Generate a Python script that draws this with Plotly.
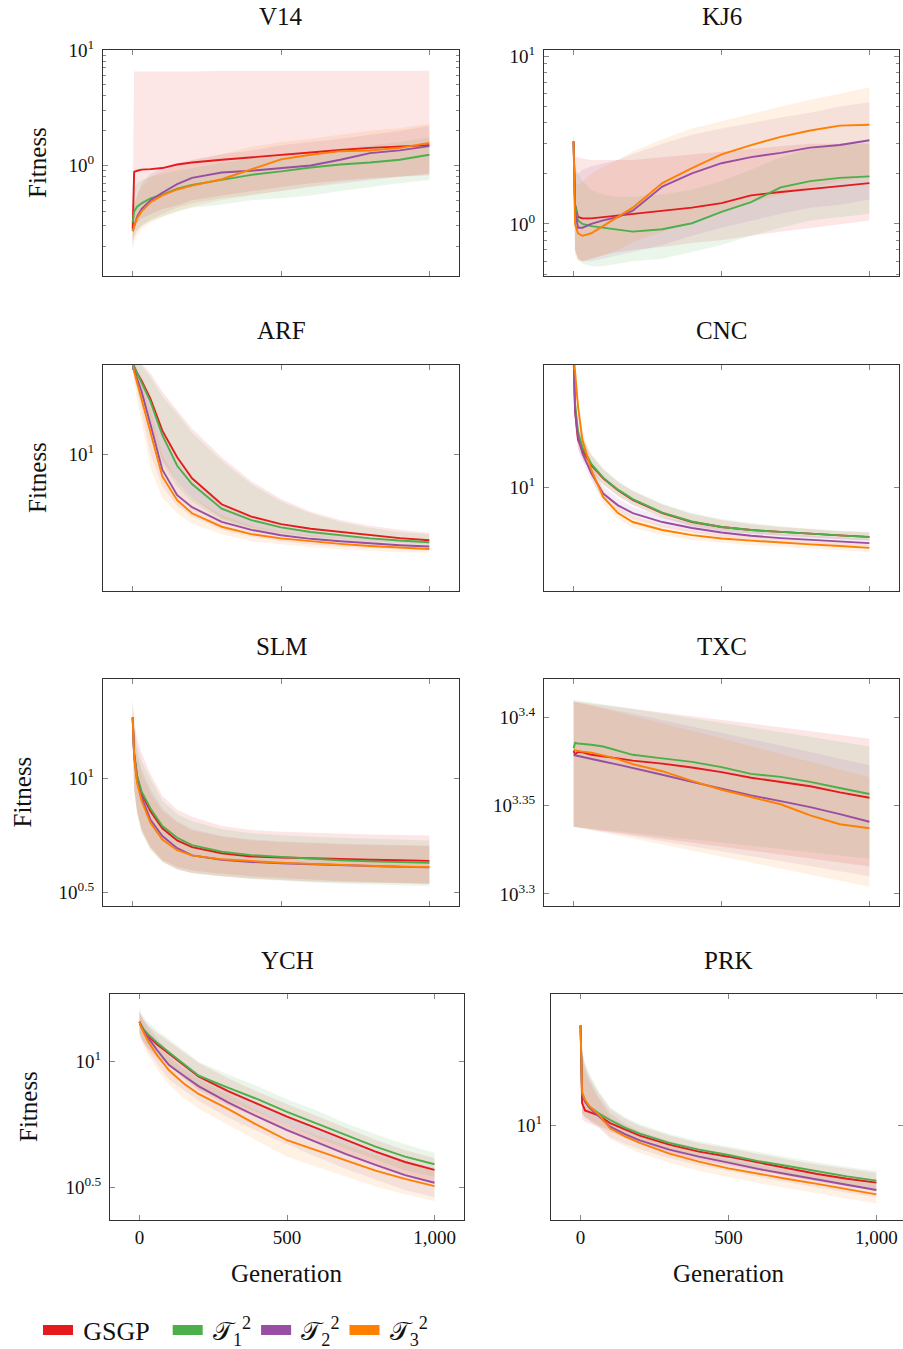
import plotly.graph_objects as go

# ---------------- data ----------------
GEN = [0, 5, 15, 30, 60, 100, 150, 200, 300, 400, 500, 600, 700, 800, 900, 1000]

# V14
V14_GSGP = [0.28, 0.88, 0.90, 0.92, 0.93, 0.95, 1.02, 1.06, 1.12, 1.18, 1.24, 1.30, 1.36, 1.42, 1.46, 1.50]
V14_GSGP_LO = [0.20, 0.30, 0.32, 0.35, 0.38, 0.42, 0.45, 0.50, 0.55, 0.60, 0.65, 0.70, 0.74, 0.78, 0.80, 0.82]
V14_GSGP_HI = [0.40, 6.5, 6.5, 6.5, 6.5, 6.5, 6.5, 6.5, 6.6, 6.6, 6.6, 6.6, 6.6, 6.6, 6.6, 6.6]
V14_T1 = [0.32, 0.40, 0.44, 0.47, 0.52, 0.56, 0.63, 0.68, 0.75, 0.83, 0.89, 0.96, 1.02, 1.06, 1.12, 1.24]
V14_T1_LO = [0.22, 0.25, 0.28, 0.30, 0.33, 0.36, 0.40, 0.43, 0.46, 0.50, 0.52, 0.55, 0.60, 0.65, 0.70, 0.75]
V14_T1_HI = [0.45, 0.65, 0.70, 0.75, 0.80, 0.85, 0.90, 0.95, 1.05, 1.15, 1.20, 1.30, 1.40, 1.50, 1.60, 1.75]
V14_T2 = [0.27, 0.30, 0.36, 0.42, 0.50, 0.58, 0.69, 0.78, 0.87, 0.90, 0.95, 1.00, 1.12, 1.28, 1.35, 1.47]
V14_T2_LO = [0.20, 0.24, 0.27, 0.30, 0.34, 0.38, 0.43, 0.47, 0.52, 0.56, 0.60, 0.65, 0.70, 0.75, 0.80, 0.85]
V14_T2_HI = [0.35, 0.45, 0.55, 0.70, 0.85, 0.95, 1.05, 1.12, 1.25, 1.35, 1.50, 1.60, 1.70, 1.85, 2.00, 2.20]
V14_T3 = [0.27, 0.30, 0.35, 0.40, 0.48, 0.55, 0.62, 0.67, 0.76, 0.92, 1.13, 1.24, 1.33, 1.35, 1.42, 1.57]
V14_T3_LO = [0.18, 0.22, 0.25, 0.28, 0.32, 0.36, 0.40, 0.44, 0.50, 0.55, 0.60, 0.66, 0.72, 0.76, 0.80, 0.85]
V14_T3_HI = [0.35, 0.45, 0.55, 0.65, 0.80, 0.90, 1.00, 1.10, 1.25, 1.45, 1.60, 1.70, 1.85, 2.00, 2.10, 2.30]

# KJ6
KJ6_GSGP = [3.1, 1.3, 1.1, 1.08, 1.08, 1.1, 1.12, 1.15, 1.2, 1.25, 1.33, 1.48, 1.55, 1.62, 1.68, 1.75]
KJ6_GSGP_LO = [2.8, 0.7, 0.62, 0.6, 0.62, 0.65, 0.68, 0.7, 0.73, 0.77, 0.8, 0.85, 0.9, 0.95, 1.0, 1.05]
KJ6_GSGP_HI = [3.5, 2.5, 2.5, 2.45, 2.4, 2.4, 2.4, 2.4, 2.5, 2.6, 2.7, 2.8, 2.9, 3.0, 3.0, 3.0]
KJ6_T1 = [3.1, 1.3, 1.05, 1.0, 0.97, 0.95, 0.92, 0.9, 0.93, 1.01, 1.18, 1.35, 1.65, 1.8, 1.88, 1.92]
KJ6_T1_LO = [2.8, 0.7, 0.62, 0.58, 0.56, 0.56, 0.58, 0.6, 0.62, 0.68, 0.75, 0.85, 0.95, 1.05, 1.1, 1.15]
KJ6_T1_HI = [3.5, 2.2, 2.0, 1.8, 1.6, 1.5, 1.45, 1.45, 1.5, 1.6, 1.8, 2.1, 2.5, 2.8, 3.0, 3.1]
KJ6_T2 = [3.1, 1.2, 0.95, 0.95, 1.0, 1.05, 1.1, 1.2, 1.67, 2.0, 2.3, 2.5, 2.65, 2.85, 2.95, 3.15]
KJ6_T2_LO = [2.8, 0.7, 0.62, 0.6, 0.6, 0.62, 0.65, 0.68, 0.75, 0.85, 0.95, 1.05, 1.15, 1.25, 1.3, 1.4]
KJ6_T2_HI = [3.5, 2.0, 2.0, 2.1, 2.2, 2.3, 2.4, 2.6, 3.0, 3.4, 3.7, 4.0, 4.3, 4.6, 5.0, 5.3]
KJ6_T3 = [3.1, 1.0, 0.88, 0.85, 0.88, 0.97, 1.1, 1.25, 1.75, 2.15, 2.6, 2.95, 3.3, 3.6, 3.85, 3.9]
KJ6_T3_LO = [2.8, 0.65, 0.6, 0.6, 0.62, 0.65, 0.7, 0.78, 0.9, 1.05, 1.2, 1.35, 1.5, 1.65, 1.8, 1.9]
KJ6_T3_HI = [3.5, 1.8, 1.7, 1.8, 2.0, 2.2, 2.4, 2.7, 3.2, 3.7, 4.1, 4.5, 5.0, 5.5, 6.0, 6.5]

# ARF
ARF_GSGP = [42, 40, 36, 32, 24, 14.5, 9.5, 6.8, 4.5, 3.7, 3.28, 3.05, 2.9, 2.75, 2.63, 2.54]
ARF_GSGP_LO = [40, 36, 30, 24, 16, 9, 6.5, 5.0, 3.6, 3.1, 2.85, 2.7, 2.6, 2.5, 2.43, 2.38]
ARF_GSGP_HI = [45, 45, 44, 42, 36, 27, 20, 15, 9.5, 6.5, 4.9, 4.0, 3.5, 3.2, 3.0, 2.85]
ARF_T1 = [42, 40, 36, 31, 23, 13.5, 8.3, 6.2, 4.2, 3.5, 3.12, 2.9, 2.75, 2.62, 2.53, 2.46]
ARF_T1_LO = [40, 35, 29, 23, 15, 8.5, 6.0, 4.7, 3.5, 3.0, 2.8, 2.65, 2.55, 2.45, 2.4, 2.35]
ARF_T1_HI = [45, 44, 43, 41, 34, 25, 19, 14, 9, 6.2, 4.7, 3.9, 3.4, 3.1, 2.9, 2.8]
ARF_T2 = [42, 38, 33, 27, 16, 7.8, 5.2, 4.3, 3.4, 3.0, 2.75, 2.6, 2.5, 2.42, 2.35, 2.3]
ARF_T2_LO = [40, 34, 27, 20, 10, 6, 4.4, 3.7, 3.0, 2.7, 2.5, 2.38, 2.3, 2.24, 2.2, 2.16]
ARF_T2_HI = [44, 42, 39, 34, 24, 14, 9, 6.5, 4.5, 3.6, 3.2, 2.95, 2.8, 2.65, 2.55, 2.45]
ARF_T3 = [42, 37, 31, 24, 14, 7.0, 4.8, 3.9, 3.15, 2.8, 2.62, 2.5, 2.4, 2.32, 2.26, 2.21]
ARF_T3_LO = [40, 32, 24, 16, 8, 5.0, 3.9, 3.3, 2.8, 2.5, 2.38, 2.28, 2.2, 2.14, 2.1, 2.08]
ARF_T3_HI = [44, 41, 37, 30, 20, 10, 6.5, 5.0, 3.8, 3.2, 2.9, 2.75, 2.6, 2.5, 2.4, 2.35]

# CNC
CNC_GSGP = [90, 35, 22, 18.6, 14.5, 11.7, 9.6, 8.2, 6.6, 5.7, 5.25, 5.0, 4.85, 4.7, 4.58, 4.47]
CNC_GSGP_LO = [85, 28, 19, 16, 13, 10.5, 8.7, 7.5, 6.1, 5.3, 4.9, 4.7, 4.55, 4.42, 4.32, 4.22]
CNC_GSGP_HI = [95, 45, 28, 22, 17, 13.5, 11, 9.5, 7.6, 6.5, 5.9, 5.5, 5.25, 5.05, 4.9, 4.8]
CNC_T1 = [90, 40, 25, 19.5, 14.8, 11.8, 9.7, 8.3, 6.65, 5.75, 5.25, 5.0, 4.85, 4.7, 4.58, 4.45]
CNC_T1_LO = [85, 32, 21, 17, 13.2, 10.6, 8.8, 7.6, 6.2, 5.35, 4.95, 4.72, 4.57, 4.43, 4.32, 4.2]
CNC_T1_HI = [95, 48, 30, 23, 17.5, 13.8, 11.2, 9.6, 7.7, 6.6, 6.0, 5.6, 5.3, 5.1, 4.95, 4.85]
CNC_T2 = [90, 36, 23, 17.6, 12.7, 9.1, 7.5, 6.6, 5.7, 5.17, 4.8, 4.55, 4.38, 4.25, 4.12, 4.03]
CNC_T2_LO = [85, 28, 19, 15.5, 11.3, 8.2, 6.8, 6.0, 5.25, 4.8, 4.45, 4.25, 4.1, 3.98, 3.88, 3.8]
CNC_T2_HI = [95, 45, 28, 20, 14.5, 10.3, 8.4, 7.3, 6.2, 5.6, 5.2, 4.9, 4.7, 4.55, 4.42, 4.32]
CNC_T3 = [90, 70, 38, 21.9, 13.4, 8.6, 6.6, 5.7, 5.0, 4.6, 4.35, 4.2, 4.05, 3.95, 3.85, 3.73]
CNC_T3_LO = [85, 60, 32, 18.5, 11.8, 7.7, 6.0, 5.2, 4.6, 4.25, 4.05, 3.9, 3.78, 3.68, 3.58, 3.48]
CNC_T3_HI = [95, 80, 45, 26, 15.5, 9.6, 7.3, 6.3, 5.45, 5.0, 4.7, 4.52, 4.35, 4.24, 4.14, 4.02]

# SLM
SLM_GSGP = [18.6, 12.9, 10.2, 8.6, 7.2, 6.05, 5.35, 5.0, 4.7, 4.55, 4.5, 4.46, 4.43, 4.4, 4.38, 4.35]
SLM_GSGP_LO = [15, 9, 7.2, 6.0, 5.0, 4.4, 4.1, 3.95, 3.82, 3.72, 3.65, 3.6, 3.55, 3.52, 3.48, 3.45]
SLM_GSGP_HI = [22, 18, 15, 13, 10.5, 8.4, 7.3, 6.8, 6.2, 5.95, 5.85, 5.78, 5.72, 5.68, 5.65, 5.62]
SLM_T1 = [18.6, 12.9, 10.3, 8.8, 7.4, 6.2, 5.5, 5.1, 4.77, 4.61, 4.53, 4.45, 4.38, 4.33, 4.3, 4.27]
SLM_T1_LO = [15, 9, 7.0, 5.8, 4.9, 4.3, 4.0, 3.85, 3.72, 3.62, 3.55, 3.5, 3.45, 3.42, 3.39, 3.37]
SLM_T1_HI = [22, 17, 14, 12, 10, 8.0, 7.0, 6.5, 6.0, 5.75, 5.65, 5.55, 5.5, 5.45, 5.4, 5.35]
SLM_T2 = [18.6, 12.5, 9.8, 8.3, 6.6, 5.6, 4.95, 4.6, 4.4, 4.3, 4.25, 4.2, 4.16, 4.13, 4.1, 4.08]
SLM_T2_LO = [15, 9, 7.2, 6.0, 5.0, 4.35, 4.0, 3.85, 3.72, 3.64, 3.58, 3.53, 3.5, 3.48, 3.46, 3.45]
SLM_T2_HI = [22, 16, 13, 11, 9, 7.4, 6.5, 6.0, 5.6, 5.4, 5.3, 5.22, 5.17, 5.13, 5.1, 5.08]
SLM_T3 = [18.6, 12.5, 9.6, 8.0, 6.4, 5.4, 4.85, 4.6, 4.42, 4.33, 4.27, 4.22, 4.17, 4.13, 4.1, 4.09]
SLM_T3_LO = [15, 8.8, 7.0, 5.8, 4.85, 4.3, 4.0, 3.85, 3.72, 3.64, 3.58, 3.53, 3.5, 3.48, 3.46, 3.45]
SLM_T3_HI = [22, 16, 12.5, 10.5, 8.6, 7.2, 6.4, 5.9, 5.55, 5.35, 5.25, 5.18, 5.13, 5.1, 5.07, 5.05]

# TXC
TXC_GSGP = [2404.4, 2393.4, 2401.7, 2400.0, 2392.2, 2387.8, 2381.2, 2374.1, 2364.8, 2352.9, 2338.8, 2321.7, 2309.4, 2296.2, 2277.7, 2262.0]
TXC_GSGP_LO = [2178, 2177, 2176, 2175, 2171, 2167, 2162, 2156, 2145, 2134, 2123, 2112, 2101, 2090, 2079, 2068]
TXC_GSGP_HI = [2564, 2564, 2562, 2561, 2557, 2552, 2546, 2540, 2528, 2516, 2504, 2491, 2479, 2467, 2455, 2443]
TXC_T1 = [2412.7, 2429.4, 2427.7, 2426.6, 2423.8, 2418.2, 2404.4, 2392.2, 2381.2, 2370.3, 2354.0, 2333.5, 2324.3, 2309.4, 2290.9, 2273.0]
TXC_T1_LO = [2178, 2178, 2177, 2175, 2173, 2169, 2165, 2160, 2151, 2142, 2134, 2125, 2116, 2107, 2098, 2089]
TXC_T1_HI = [2570, 2569, 2568, 2565, 2561, 2555, 2547, 2540, 2524, 2509, 2494, 2479, 2464, 2448, 2433, 2418]
TXC_T2 = [2391.7, 2390.6, 2387.8, 2385.1, 2379.6, 2371.4, 2361.6, 2351.8, 2330.8, 2309.4, 2288.2, 2268.8, 2252.2, 2234.6, 2214.1, 2192.3]
TXC_T2_LO = [2178, 2177, 2176, 2174, 2170, 2164, 2158, 2151, 2137, 2124, 2110, 2096, 2083, 2069, 2056, 2042]
TXC_T2_HI = [2564, 2563, 2561, 2558, 2552, 2544, 2533, 2523, 2503, 2482, 2462, 2442, 2421, 2401, 2380, 2360]
TXC_T3 = [2407.1, 2405.5, 2404.4, 2402.2, 2398.8, 2390.6, 2378.5, 2363.2, 2341.5, 2312.1, 2285.6, 2264.1, 2242.8, 2210.5, 2185.2, 2173.7]
TXC_T3_LO = [2178, 2177, 2176, 2173, 2168, 2162, 2153, 2145, 2129, 2112, 2096, 2080, 2063, 2047, 2030, 2014]
TXC_T3_HI = [2564, 2563, 2560, 2557, 2550, 2540, 2528, 2516, 2492, 2468, 2444, 2419, 2395, 2371, 2347, 2323]

# YCH
YCH_GSGP = [14.4, 13.8, 13.2, 12.6, 11.7, 10.8, 9.7, 8.75, 7.65, 6.8, 6.05, 5.45, 4.9, 4.4, 4.0, 3.72]
YCH_GSGP_LO = [13.0, 12.4, 11.8, 11.2, 10.4, 9.6, 8.6, 7.7, 6.7, 6.0, 5.3, 4.8, 4.3, 3.9, 3.55, 3.3]
YCH_GSGP_HI = [15.8, 15.2, 14.6, 13.9, 13.0, 12.0, 10.9, 9.9, 8.6, 7.6, 6.8, 6.1, 5.45, 4.9, 4.45, 4.15]
YCH_T1 = [14.4, 14.0, 13.4, 12.8, 11.9, 10.9, 9.8, 8.8, 7.9, 7.1, 6.33, 5.7, 5.1, 4.6, 4.2, 3.92]
YCH_T1_LO = [13.0, 12.5, 12.0, 11.4, 10.6, 9.7, 8.7, 7.8, 7.0, 6.3, 5.6, 5.0, 4.5, 4.1, 3.7, 3.5]
YCH_T1_HI = [16.5, 15.6, 15.0, 14.3, 13.3, 12.3, 11.1, 10.0, 8.9, 8.0, 7.1, 6.4, 5.7, 5.15, 4.7, 4.35]
YCH_T2 = [14.4, 13.9, 13.2, 12.4, 11.1, 9.7, 8.8, 8.0, 6.9, 6.05, 5.35, 4.78, 4.3, 3.9, 3.55, 3.31]
YCH_T2_LO = [13.0, 12.5, 11.8, 11.0, 9.8, 8.5, 7.7, 7.0, 6.0, 5.3, 4.7, 4.2, 3.75, 3.4, 3.1, 2.9]
YCH_T2_HI = [15.8, 15.3, 14.6, 13.8, 12.4, 10.9, 9.9, 9.0, 7.8, 6.9, 6.1, 5.45, 4.9, 4.45, 4.05, 3.8]
YCH_T3 = [14.4, 13.8, 13.0, 12.0, 10.6, 9.25, 8.2, 7.45, 6.5, 5.6, 4.88, 4.45, 4.05, 3.7, 3.43, 3.21]
YCH_T3_LO = [12.8, 12.2, 11.5, 10.6, 9.3, 8.1, 7.2, 6.5, 5.6, 4.85, 4.2, 3.85, 3.5, 3.2, 2.98, 2.8]
YCH_T3_HI = [15.8, 15.2, 14.4, 13.4, 11.9, 10.4, 9.3, 8.5, 7.4, 6.4, 5.6, 5.1, 4.65, 4.25, 3.95, 3.7]

# PRK
PRK_GSGP = [46, 14, 12.5, 12.2, 11.6, 10.3, 9.3, 8.5, 7.4, 6.65, 6.15, 5.6, 5.15, 4.72, 4.38, 4.13]
PRK_GSGP_LO = [44, 11, 10.5, 10.2, 9.8, 9.0, 8.2, 7.5, 6.5, 5.85, 5.4, 4.95, 4.55, 4.2, 3.9, 3.7]
PRK_GSGP_HI = [48, 30, 25, 21, 16.5, 12.8, 11.0, 9.9, 8.5, 7.6, 7.0, 6.4, 5.9, 5.45, 5.1, 4.8]
PRK_T1 = [46, 16.5, 14.5, 13.3, 12.0, 10.8, 9.6, 8.75, 7.6, 6.85, 6.31, 5.75, 5.33, 4.92, 4.55, 4.26]
PRK_T1_LO = [44, 12, 11.2, 10.8, 10.2, 9.3, 8.4, 7.7, 6.7, 6.05, 5.55, 5.05, 4.65, 4.3, 4.0, 3.75]
PRK_T1_HI = [48, 32, 26, 22, 17.0, 13.2, 11.3, 10.1, 8.7, 7.8, 7.2, 6.6, 6.1, 5.65, 5.25, 4.95]
PRK_T2 = [46, 16, 14.3, 13.0, 11.5, 9.75, 8.7, 7.9, 6.85, 6.15, 5.62, 5.1, 4.7, 4.35, 4.0, 3.69]
PRK_T2_LO = [44, 12, 11.2, 10.6, 9.6, 8.3, 7.5, 6.9, 6.0, 5.4, 4.95, 4.5, 4.15, 3.85, 3.55, 3.3]
PRK_T2_HI = [48, 30, 24, 20, 15.5, 12.0, 10.2, 9.1, 7.8, 7.0, 6.4, 5.8, 5.35, 4.95, 4.6, 4.3]
PRK_T3 = [46, 16.5, 14.7, 13.3, 11.8, 9.5, 8.4, 7.6, 6.45, 5.7, 5.14, 4.72, 4.37, 4.05, 3.75, 3.45]
PRK_T3_LO = [44, 12, 11.5, 10.8, 9.8, 8.1, 7.2, 6.5, 5.6, 4.95, 4.5, 4.1, 3.8, 3.5, 3.25, 3.0]
PRK_T3_HI = [48, 28, 22, 19, 15.0, 11.2, 9.8, 8.8, 7.4, 6.5, 5.85, 5.4, 5.0, 4.6, 4.3, 4.0]

# tick labels
X_TICKS = [0, 500, 1000]
X_TICK_TEXT = ["0", "500", "1,000"]
Y_TICKS_DECADE = [1, 10]
Y_TICK_TEXT_DECADE = ["10<sup>0</sup>", "10<sup>1</sup>"]
Y_TICKS_TEN = [10]
Y_TICK_TEXT_TEN = ["10<sup>1</sup>"]
Y_TICKS_HALF = [10 ** 0.5, 10]
Y_TICK_TEXT_HALF = ["10<sup>0.5</sup>", "10<sup>1</sup>"]
Y_TICKS_TXC = [10 ** 3.3, 10 ** 3.35, 10 ** 3.4]
Y_TICK_TEXT_TXC = ["10<sup>3.3</sup>", "10<sup>3.35</sup>", "10<sup>3.4</sup>"]
MINOR_V14 = [0.2, 0.3, 0.4, 0.5, 0.6, 0.7, 0.8, 0.9, 2, 3, 4, 5, 6, 7, 8, 9]
MINOR_KJ6 = [0.5, 0.6, 0.7, 0.8, 0.9, 2, 3, 4, 5, 6, 7, 8, 9]

SERIES = ["GSGP", "T1", "T2", "T3"]
SERIES_LABELS = ["\u2009GSGP\u2002", "\u2009𝒯<sub>1</sub><sup>2</sup>", "\u2009𝒯<sub>2</sub><sup>2</sup>", "\u2009𝒯<sub>3</sub><sup>2</sup>"]
PANELS = ["V14", "KJ6", "ARF", "CNC", "SLM", "TXC", "YCH", "PRK"]

# ---------------- build ----------------
G = globals()
TABLE = {p: {s: (G[f"{p}_{s}"], G[f"{p}_{s}_LO"], G[f"{p}_{s}_HI"]) for s in SERIES} for p in PANELS}

W, H = 903, 1349
COLORS = {"GSGP": "#e41a1c", "T1": "#4daf4a", "T2": "#984ea3", "T3": "#ff7f00"}
FILLS = {"GSGP": "rgba(228,26,28,0.11)", "T1": "rgba(77,175,74,0.11)",
         "T2": "rgba(152,78,163,0.11)", "T3": "rgba(255,127,0,0.11)"}
FONT = "Liberation Serif, Times New Roman, serif"

# geometry: x0,x1,y0,y1 in px ; log y range ; x range ; y ticks ; minor ticks
GEOM = {
    "V14": (103, 459, 50, 276, [-0.957, 1.0], [-100, 1100], Y_TICKS_DECADE, Y_TICK_TEXT_DECADE, MINOR_V14),
    "KJ6": (544, 899, 50, 276, [-0.31, 1.036], [-100, 1100], Y_TICKS_DECADE, Y_TICK_TEXT_DECADE, MINOR_KJ6),
    "ARF": (103, 459, 365, 591, [0.055, 1.614], [-100, 1100], Y_TICKS_TEN, Y_TICK_TEXT_TEN, None),
    "CNC": (544, 899, 365, 591, [0.264, 1.876], [-100, 1100], Y_TICKS_TEN, Y_TICK_TEXT_TEN, None),
    "SLM": (103, 459, 679, 906, [0.44, 1.439], [-100, 1100], Y_TICKS_HALF, Y_TICK_TEXT_HALF, None),
    "TXC": (544, 899, 679, 906, [3.2932, 3.4217], [-100, 1100], Y_TICKS_TXC, Y_TICK_TEXT_TXC, None),
    "YCH": (110, 464, 994, 1220, [0.372, 1.2686], [-100, 1100], Y_TICKS_HALF, Y_TICK_TEXT_HALF, None),
    "PRK": (551, 903, 994, 1220, [0.367, 1.873], [-100, 1090], Y_TICKS_TEN, Y_TICK_TEXT_TEN, None),
}
TITLE_Y = {"V14": 16, "KJ6": 16, "ARF": 331, "CNC": 331, "SLM": 646, "TXC": 646, "YCH": 960, "PRK": 960}
FITNESS_X = {"V14": 37, "ARF": 37, "SLM": 22, "YCH": 28}

fig = go.Figure()
layout = {}
annotations = []

for i, p in enumerate(PANELS, start=1):
    x0, x1, y0, y1, yr, xr, yt, ytt, minor = GEOM[p]
    xa = "x" if i == 1 else f"x{i}"
    ya = "y" if i == 1 else f"y{i}"
    # bands
    for s in SERIES:
        mean, lo, hi = TABLE[p][s]
        fig.add_trace(go.Scatter(
            x=GEN + GEN[::-1], y=hi + lo[::-1], fill="toself", fillcolor=FILLS[s],
            line=dict(width=0), mode="lines", hoverinfo="skip", showlegend=False,
            xaxis=xa, yaxis=ya))
    for s in SERIES:
        mean, lo, hi = TABLE[p][s]
        fig.add_trace(go.Scatter(
            x=GEN, y=mean, mode="lines", line=dict(color=COLORS[s], width=1.9),
            showlegend=False, xaxis=xa, yaxis=ya))
    bottom = p in ("YCH", "PRK")
    axcommon = dict(showline=True, linecolor="#333", linewidth=1, mirror="allticks",
                    ticks="inside", ticklen=5, tickcolor="#888", tickwidth=1,
                    showgrid=False, zeroline=False, automargin=False,
                    tickfont=dict(family=FONT, size=19, color="#111"))
    layout["xaxis" if i == 1 else f"xaxis{i}"] = dict(
        domain=[x0 / W, x1 / W], range=xr, anchor=ya, tickmode="array",
        tickvals=X_TICKS, ticktext=X_TICK_TEXT, showticklabels=bottom, **axcommon)
    ydict = dict(type="log", domain=[1 - y1 / H, 1 - y0 / H], range=yr, anchor=xa,
                 tickmode="array", tickvals=yt, ticktext=ytt, ticklabelstandoff=4, **axcommon)
    if minor:
        ydict["minor"] = dict(tickmode="array", tickvals=minor, ticks="inside", ticklen=3,
                              tickcolor="#888", showgrid=False)
    layout["yaxis" if i == 1 else f"yaxis{i}"] = ydict
    xc = (551 + 906) / 2 if p == "PRK" else (x0 + x1) / 2
    annotations.append(dict(text=p, x=xc / W, y=1 - TITLE_Y[p] / H, xref="paper", yref="paper",
                            showarrow=False, xanchor="center", yanchor="middle",
                            font=dict(family=FONT, size=25, color="#111")))
    if p in FITNESS_X:
        annotations.append(dict(text="Fitness", x=FITNESS_X[p] / W, y=1 - (y0 + y1) / 2 / H,
                                xref="paper", yref="paper", showarrow=False, textangle=-90,
                                xanchor="center", yanchor="middle",
                                font=dict(family=FONT, size=25, color="#111")))
    if bottom:
        annotations.append(dict(text="Generation", x=xc / W,
                                y=1 - 1273 / H, xref="paper", yref="paper", showarrow=False,
                                xanchor="center", yanchor="middle",
                                font=dict(family=FONT, size=25, color="#111")))

# legend entries
for s, lab in zip(SERIES, SERIES_LABELS):
    fig.add_trace(go.Scatter(x=[None], y=[None], mode="lines", name=lab,
                             line=dict(color=COLORS[s], width=10), showlegend=True,
                             xaxis="x", yaxis="y"))

fig.update_layout(
    width=W, height=H, margin=dict(l=0, r=0, t=0, b=0, pad=0, autoexpand=False),
    paper_bgcolor="white", plot_bgcolor="white",
    font=dict(family=FONT, color="#111"),
    annotations=annotations,
    legend=dict(orientation="h", x=38 / W, y=1 - 1330 / H, xanchor="left", yanchor="middle",
                font=dict(family=FONT, size=26, color="#111"), bgcolor="rgba(0,0,0,0)",
                itemwidth=30, tracegroupgap=0),
    **layout,
)

fig.write_html("out.html")
